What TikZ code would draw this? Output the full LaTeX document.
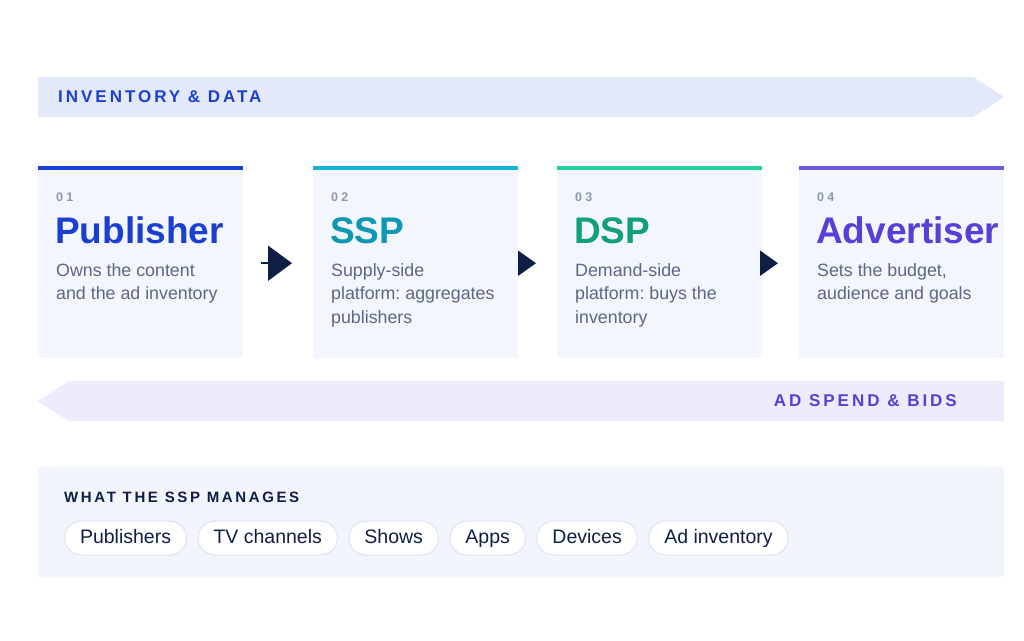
\documentclass[tikz,border=0pt]{standalone}
\usepackage{fontspec}
\setmainfont{Liberation Sans}
\setsansfont{Liberation Sans}
\newfontfamily\capsfont[LetterSpace=17.5]{Liberation Sans}
\newfontfamily\numfont[LetterSpace=25]{Liberation Sans}
\usepackage{xcolor}
\usetikzlibrary{
    shapes.symbols,
    arrows.meta,
    positioning
}
\frenchspacing
\definecolor{pubtitle}{HTML}{1B3FD1}
\definecolor{pubbar}{HTML}{1640D6}
\definecolor{ssptitle}{HTML}{0E97B2}
\definecolor{sspbar}{HTML}{12B5D8}
\definecolor{dsptitle}{HTML}{12A07A}
\definecolor{dspbar}{HTML}{23CFA0}
\definecolor{advtitle}{HTML}{5540D8}
\definecolor{advbar}{HTML}{7058E6}
\definecolor{cardbg}{HTML}{F3F6FC}
\definecolor{bandblue}{HTML}{E3E9F8}
\definecolor{bandpurple}{HTML}{EEECFC}
\definecolor{navy}{HTML}{0E1E44}
\definecolor{descgray}{HTML}{5B6784}
\definecolor{numgray}{HTML}{8A97AE}
\definecolor{panelbg}{HTML}{F2F5FB}
\definecolor{chipline}{HTML}{DCE3F3}
\tikzset{
    % Card style
    card/.style={
        rectangle,
        fill=cardbg,
        minimum width=205pt,
        minimum height=190pt,
        inner sep=0pt,
        anchor=north west
    },
    % Coloured top bar of a card
    bar/.style={
        line width=4pt,
        draw=#1
    },
    % Card texts
    cardnum/.style={
        font=\numfont\bfseries\fontsize{12.5}{14}\selectfont,
        text=numgray,
        inner sep=0pt,
        anchor=base west
    },
    cardtitle/.style={
        font=\bfseries\fontsize{37}{40}\selectfont,
        text=#1,
        inner sep=0pt,
        anchor=base west
    },
    desc/.style={
        font=\fontsize{17.8}{23.5}\selectfont,
        text=descgray,
        align=left,
        inner sep=0pt,
        anchor=north west
    },
    % Band style
    band/.style={
        signal,
        signal pointer angle=66,
        fill=#1,
        minimum width=966pt,
        minimum height=40pt,
        inner sep=0pt
    },
    bandlabel/.style={
        font=\capsfont\bfseries\fontsize{17}{20}\selectfont,
        text=#1,
        inner sep=0pt
    },
    % Arrow styles
    flow/.style={
        -{Triangle[length=18pt, width=25pt]},
        line width=2pt,
        draw=navy
    },
    % Bottom panel
    panel/.style={
        rectangle,
        fill=panelbg,
        minimum width=966pt,
        minimum height=110pt,
        inner sep=0pt,
        anchor=north west
    },
    chip/.style={
        rectangle,
        rounded corners=17pt,
        draw=chipline,
        fill=white,
        line width=1pt,
        minimum height=34pt,
        inner xsep=15.5pt,
        text height=14pt,
        text depth=4pt,
        font=\fontsize{19.5}{22}\selectfont,
        text=navy
    }
}
\begin{document}
\begin{tikzpicture}[x=1pt, y=-1pt, node distance=10.5pt]
    \useasboundingbox (0,0) rectangle (1024,640);

    % Inventory band
    \node[band=bandblue, signal to=east, anchor=west] (inv) at (38,97) {};
    \node[bandlabel=pubtitle, anchor=west] (invlabel) at (58,97) {INVENTORY \& DATA};

    % Cards
    \node[card] (pub) at (38,168) {};
    \node[card] (ssp) at (313,168) {};
    \node[card] (dsp) at (557,168) {};
    \node[card] (adv) at (799,168) {};

    \draw[bar=pubbar] (pub.north west) -- (pub.north east);
    \draw[bar=sspbar] (ssp.north west) -- (ssp.north east);
    \draw[bar=dspbar] (dsp.north west) -- (dsp.north east);
    \draw[bar=advbar] (adv.north west) -- (adv.north east);

    \node[cardnum] (pubnum) at (56,201) {01};
    \node[cardnum] (sspnum) at (331,201) {02};
    \node[cardnum] (dspnum) at (575,201) {03};
    \node[cardnum] (advnum) at (817,201) {04};

    \node[cardtitle=pubtitle] (pubname) at (55,243) {Publisher};
    \node[cardtitle=ssptitle] (sspname) at (330,243) {SSP};
    \node[cardtitle=dsptitle] (dspname) at (574,243) {DSP};
    \node[cardtitle=advtitle] (advname) at (816,243) {Advertiser};

    \node[desc] (pubdesc) at (56,263) {Owns the content\\and the ad inventory};
    \node[desc] (sspdesc) at (331,263) {Supply-side\\platform: aggregates\\publishers};
    \node[desc] (dspdesc) at (575,263) {Demand-side\\platform: buys the\\inventory};
    \node[desc] (advdesc) at (817,263) {Sets the budget,\\audience and goals};

    % Connections
    \draw[flow, -{Triangle[length=24pt, width=35pt]}, shorten <=18pt, shorten >=21pt] (pub.east) -- (ssp.west);
    \draw[flow, shorten >=21pt] (ssp.east) -- (dsp.west);
    \draw[flow, shorten >=21pt] (dsp.east) -- (adv.west);

    % Ad spend band
    \node[band=bandpurple, signal to=west, anchor=east] (spend) at (1004,401) {};
    \node[bandlabel=advtitle, anchor=east] (spendlabel) at (957,401) {AD SPEND \& BIDS};

    % What the SSP manages
    \node[panel] (mng) at (38,467) {};
    \node[font=\capsfont\bfseries\fontsize{15}{18}\selectfont, text=navy, inner sep=0pt, anchor=west] (mnglabel) at (64,497) {WHAT THE SSP MANAGES};

    \node[chip, anchor=west] (c1) at (64,538) {Publishers};
    \node[chip, right=of c1] (c2) {TV channels};
    \node[chip, right=of c2] (c3) {Shows};
    \node[chip, right=of c3] (c4) {Apps};
    \node[chip, right=of c4] (c5) {Devices};
    \node[chip, right=of c5] (c6) {Ad inventory};

\end{tikzpicture}
\end{document}
